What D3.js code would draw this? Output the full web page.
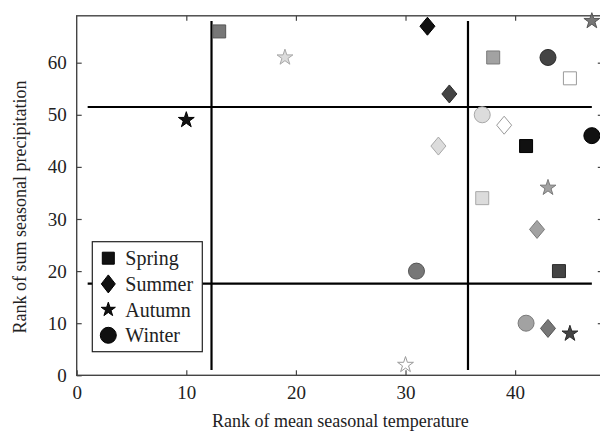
<!DOCTYPE html>
<html>
<head>
<meta charset="utf-8">
<script src="https://cdn.jsdelivr.net/npm/d3@7"></script>
<style>
  html, body { margin: 0; padding: 0; background: #fff; }
  svg { display: block; }
  text { font-family: "Liberation Serif", "Times New Roman", serif; fill: #222; }
</style>
</head>
<body>
<svg id="chart" width="600" height="433"></svg>
<script>
// Seasonal ranks: x = rank of mean temperature, y = rank of summed precipitation.
// group = shading class of each point (0 = darkest ... 5 = open/white)
const seasons = ["Spring", "Summer", "Autumn", "Winter"];

const springTemp   = [13, 38, 45, 41, 37, 44];
const springPrecip = [66, 61, 57, 44, 34, 20];
const springGroup  = [2, 3, 5, 0, 4, 1];

const summerTemp   = [32, 34, 39, 33, 42, 43];
const summerPrecip = [67, 54, 48, 44, 28, 9];
const summerGroup  = [0, 1, 5, 4, 3, 2];

const autumnTemp   = [10, 19, 47, 43, 45, 30];
const autumnPrecip = [49, 61, 68, 36, 8, 2];
const autumnGroup  = [0, 4, 2, 3, 1, 5];

const winterTemp   = [43, 47, 37, 31, 41];
const winterPrecip = [61, 46, 50, 20, 10];
const winterGroup  = [1, 0, 4, 2, 3];

// Tercile boundaries drawn as reference lines
const tempThresholds   = [12.3, 35.7];
const precipThresholds = [17.6, 51.5];

const xTicks = [0, 10, 20, 30, 40];
const yTicks = [0, 10, 20, 30, 40, 50, 60];

const xTitle = "Rank of mean seasonal temperature";
const yTitle = "Rank of sum seasonal precipitation";

// ---------------------------------------------------------------
const svg = d3.select("#chart");
const plot = { left: 76.7, top: 15.8, right: 602.8, bottom: 375.3 };

const x = d3.scaleLinear().domain([0, 48]).range([plot.left, plot.right]);
const y = d3.scaleLinear().domain([0, 69]).range([plot.bottom, plot.top]);

const fillOf   = d3.scaleOrdinal().domain([0,1,2,3,4,5]).range(["#111", "#444", "#777", "#a2a2a2", "#dcdcdc", "#ffffff"]);
const strokeOf = d3.scaleOrdinal().domain([0,1,2,3,4,5]).range(["#000", "#2a2a2a", "#555", "#7a7a7a", "#a8a8a8", "#9a9a9a"]);

const series = [
  { name: "Spring", shape: "square",  t: springTemp, p: springPrecip, g: springGroup },
  { name: "Summer", shape: "diamond", t: summerTemp, p: summerPrecip, g: summerGroup },
  { name: "Autumn", shape: "star",    t: autumnTemp, p: autumnPrecip, g: autumnGroup },
  { name: "Winter", shape: "circle",  t: winterTemp, p: winterPrecip, g: winterGroup }
];

// marker path generators (centred on 0,0)
function diamondPath(w, h) {
  const p = d3.path();
  p.moveTo(0, -h / 2); p.lineTo(w / 2, 0); p.lineTo(0, h / 2); p.lineTo(-w / 2, 0); p.closePath();
  return p.toString();
}
const markerPath = {
  square:  d3.symbol(d3.symbolSquare, 13 * 13)(),
  diamond: diamondPath(15, 18),
  star:    d3.symbol(d3.symbolStar, 78)(),
  circle:  d3.symbol(d3.symbolCircle, Math.PI * 8 * 8)()
};
const legendPath = {
  square:  d3.symbol(d3.symbolSquare, 12 * 12)(),
  diamond: diamondPath(14, 18),
  star:    d3.symbol(d3.symbolStar, 62)(),
  circle:  d3.symbol(d3.symbolCircle, Math.PI * 8 * 8)()
};

// ---------------- axes (ticks point inward on all four sides)
const axisColor = "#444";
function styleAxis(g) {
  g.select(".domain").remove();
  g.selectAll(".tick line").attr("stroke", axisColor).attr("stroke-width", 1.2);
  g.selectAll(".tick text").style("font-size", "19px").attr("fill", "#222")
    .style("font-family", "'Liberation Serif', 'Times New Roman', serif");
}

svg.append("g").attr("transform", `translate(0,${plot.bottom})`)
  .call(d3.axisBottom(x).tickValues(xTicks).tickFormat(d3.format("d")).tickSize(-5).tickPadding(10))
  .call(styleAxis);
svg.append("g").attr("transform", `translate(0,${plot.top})`)
  .call(d3.axisTop(x).tickValues(xTicks.filter(d => d > 0)).tickFormat("").tickSize(-5))
  .call(styleAxis);
svg.append("g").attr("transform", `translate(${plot.left},0)`)
  .call(d3.axisLeft(y).tickValues(yTicks).tickFormat(d3.format("d")).tickSize(-5).tickPadding(10))
  .call(styleAxis);
svg.append("g").attr("transform", `translate(${plot.right},0)`)
  .call(d3.axisRight(y).tickValues(yTicks.filter(d => d > 0)).tickFormat("").tickSize(-5))
  .call(styleAxis);

// plot frame
svg.append("rect")
  .attr("x", plot.left).attr("y", plot.top)
  .attr("width", plot.right - plot.left).attr("height", plot.bottom - plot.top)
  .attr("fill", "none").attr("stroke", axisColor).attr("stroke-width", 1.4);

// ---------------- tercile reference lines
const refG = svg.append("g").attr("stroke", "#000").attr("stroke-width", 2.2);
refG.selectAll("line.v").data(tempThresholds).join("line").attr("class", "v")
  .attr("x1", d => x(d)).attr("x2", d => x(d))
  .attr("y1", y(1)).attr("y2", y(68));
refG.selectAll("line.h").data(precipThresholds).join("line").attr("class", "h")
  .attr("y1", d => y(d)).attr("y2", d => y(d))
  .attr("x1", x(1)).attr("x2", x(47));

// ---------------- points
series.forEach(s => {
  const pts = s.t.map((t, i) => ({ t, p: s.p[i], g: s.g[i] }));
  svg.append("g").selectAll("path").data(pts).join("path")
    .attr("d", markerPath[s.shape])
    .attr("transform", d => `translate(${x(d.t)},${y(d.p)})`)
    .attr("fill", d => fillOf(d.g))
    .attr("stroke", d => strokeOf(d.g))
    .attr("stroke-width", 1);
});

// ---------------- legend
const legend = svg.append("g").attr("transform", "translate(92.3,241.7)");
legend.append("rect").attr("width", 110).attr("height", 110)
  .attr("fill", "#fff").attr("stroke", "#222").attr("stroke-width", 1.2);
seasons.forEach((name, i) => {
  const s = series.find(d => d.name === name);
  const row = legend.append("g").attr("transform", `translate(0,${16.5 + i * 25.7})`);
  row.append("path").attr("d", legendPath[s.shape])
    .attr("transform", "translate(16,0)").attr("fill", "#111").attr("stroke", "#000");
  row.append("text").attr("x", 33).attr("y", 0).attr("dy", "0.35em")
    .style("font-size", "20px").text(name);
});

// ---------------- axis titles
svg.append("text")
  .attr("x", (plot.left + 600) / 2 + 2).attr("y", 427)
  .attr("text-anchor", "middle").style("font-size", "18px").attr("fill", "#333")
  .text(xTitle);
svg.append("text")
  .attr("transform", `translate(26,${207}) rotate(-90)`)
  .attr("text-anchor", "middle").style("font-size", "18px").attr("fill", "#333")
  .text(yTitle);
</script>
</body>
</html>
